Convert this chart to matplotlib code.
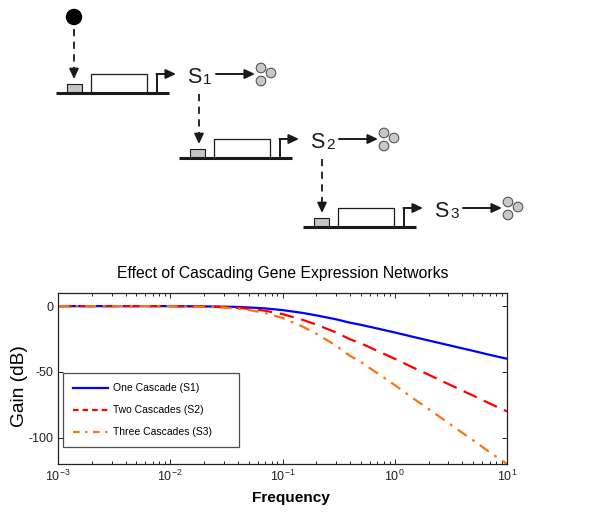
import matplotlib
matplotlib.use("Agg")
import matplotlib.pyplot as plt
from matplotlib.patches import Rectangle, Circle
from matplotlib.lines import Line2D

plt.rcParams["font.family"] = ["Liberation Sans", "DejaVu Sans"]
plt.rcParams["axes.unicode_minus"] = False

# frequency response (gain in dB)
freq = [0.001, 0.002, 0.005, 0.01, 0.02, 0.03, 0.04, 0.05, 0.07, 0.1, 0.15, 0.2,
        0.3, 0.4, 0.5, 0.7, 1.0, 1.5, 2.0, 3.0, 4.0, 5.0, 7.0, 10.0]
one_cascade = [0, 0, 0, 0, -0.2, -0.4, -0.6, -1.0, -1.7, -3.0, -5.1, -7.0,
               -10.0, -12.6, -14.2, -17.0, -20.0, -23.6, -26.1, -29.6, -32.1, -34.0, -37.0, -40.0]
two_cascades = [0, 0, 0, 0, -0.3, -0.8, -1.3, -2.0, -3.5, -6.0, -10.3, -14.0,
                -20.0, -25.2, -28.3, -34.0, -40.0, -47.2, -52.1, -59.2, -64.2, -68.0, -74.0, -80.0]
three_cascades = [0, 0, 0, 0, -0.5, -1.1, -1.9, -2.9, -5.2, -9.0, -15.4, -21.0,
                  -30.0, -37.8, -42.5, -51.0, -60.0, -70.8, -78.2, -88.8, -96.3, -102.0, -111.0, -120.0]
series_labels = ["One Cascade (S1)", "Two Cascades (S2)", "Three Cascades (S3)"]
series_colors = ["#0000ff", "#ff0000", "#ff7010"]
yticks = [0, -50, -100]

# schematic: gene baseline start of each stage (pixels), species index
stages = [(56, 93), (179, 158), (303, 227)]
species = ["1", "2", "3"]
inducer = (74, 17)

fig = plt.figure(figsize=(6.01, 5.19), dpi=100)

# ---- schematic on a pixel-coordinate overlay ----
d = fig.add_axes([0, 0, 1, 1])
d.set_xlim(0, 601)
d.set_ylim(519, 0)
d.axis("off")
d.patch.set_alpha(0)

ink = "#1a1a1a"
head = "-|>,head_length=0.6,head_width=0.28"


def arrow(ax, x0, y0, x1, y1, lw=1.5):
    ax.annotate("", xy=(x1, y1), xytext=(x0, y0),
                arrowprops=dict(arrowstyle=head, color=ink, lw=lw,
                                shrinkA=0, shrinkB=0, mutation_scale=10))


def dashed_arrow(ax, x, y0, y1):
    ax.plot([x, x], [y0, y1 - 6], color=ink, lw=1.3, ls=(0, (4, 3)))
    arrow(ax, x, y1 - 8, x, y1, lw=1.3)


for i, (x0, y0) in enumerate(stages):
    d.plot([x0, x0 + 113], [y0, y0], color=ink, lw=2.2, solid_capstyle="butt")
    d.add_patch(Rectangle((x0 + 11, y0 - 9), 15, 9, facecolor="#c4c4c4",
                          edgecolor=ink, lw=0.8))
    d.add_patch(Rectangle((x0 + 35, y0 - 19), 56, 19, facecolor="white",
                          edgecolor=ink, lw=0.9))
    d.plot([x0 + 101, x0 + 101], [y0, y0 - 19], color=ink, lw=1.4)
    arrow(d, x0 + 100.5, y0 - 19, x0 + 120, y0 - 19, lw=1.4)
    d.text(x0 + 131, y0 - 10, "S", fontsize=15.5, va="baseline", ha="left", color=ink)
    d.text(x0 + 147, y0 - 9, species[i], fontsize=11, va="baseline", ha="left", color=ink)
    arrow(d, x0 + 160, y0 - 19, x0 + 199, y0 - 19, lw=1.4)
    for cx, cy in [(205, -25), (215, -20), (205, -12)]:
        d.add_patch(Circle((x0 + cx, y0 + cy), 4.8, facecolor="#c8c8c8",
                           edgecolor="#555555", lw=0.8))
    # regulation from the previous species / inducer
    if i == 0:
        d.add_patch(Circle(inducer, 7.5, facecolor="black", edgecolor="black"))
        dashed_arrow(d, x0 + 18, inducer[1] + 12, y0 - 14)
    else:
        px, py = stages[i - 1]
        dashed_arrow(d, px + 143, py + 1, y0 - 14)

# ---- Bode magnitude plot ----
ax = fig.add_axes([58 / 601, 1 - 464 / 519, 449 / 601, 171 / 519])
ax.semilogx(freq, one_cascade, color=series_colors[0], lw=1.6)
ax.semilogx(freq, two_cascades, color=series_colors[1], lw=1.6, ls=(0, (6.5, 3.5)))
ax.semilogx(freq, three_cascades, color=series_colors[2], lw=1.6,
            ls=(0, (5, 3, 1.2, 3)))
ax.set_xlim(1e-3, 10)
ax.set_ylim(-120, 10)
ax.set_yticks(yticks)
ax.tick_params(which="both", direction="in", top=True, right=True,
               labelsize=9, width=0.7, colors="#222222")
ax.tick_params(which="major", length=3.6)
ax.tick_params(which="minor", length=2)
for s in ax.spines.values():
    s.set_linewidth(0.9)
    s.set_color("#222222")
ax.set_title("Effect of Cascading Gene Expression Networks", fontsize=11.3, pad=11)
ax.set_ylabel("Gain (dB)", fontsize=13.8)
ax.yaxis.set_label_coords(-0.067, 0.456)
ax.set_xlabel("Frequency", fontsize=11.1, fontweight="bold")
ax.xaxis.set_label_coords(0.519, -0.16)

handles = [
    Line2D([], [], color=series_colors[0], lw=1.6),
    Line2D([], [], color=series_colors[1], lw=1.6, ls=(0, (2.5, 1.8))),
    Line2D([], [], color=series_colors[2], lw=1.6, ls=(0, (3, 2.5, 1, 2.5))),
]
leg = ax.legend(handles, series_labels, loc="lower left",
                bbox_to_anchor=(0.011, 0.099, 0.392, 0.3), mode="expand",
                fontsize=7.5, frameon=True, fancybox=False, borderaxespad=0,
                borderpad=0.95, handlelength=3.4, handletextpad=0.5,
                labelspacing=1.15)
leg.get_frame().set_edgecolor("#222222")
leg.get_frame().set_linewidth(0.9)

fig.savefig("out.png", dpi=100)
